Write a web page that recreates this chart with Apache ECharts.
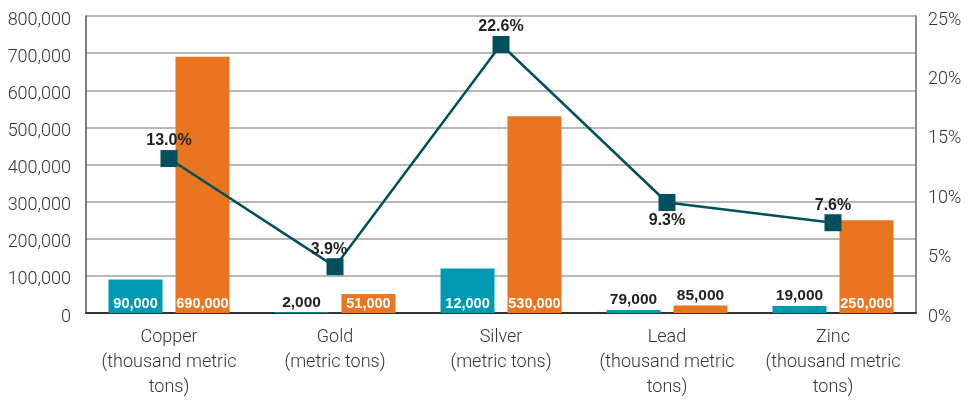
<!DOCTYPE html>
<html><head><meta charset="utf-8">
<script src="https://cdn.jsdelivr.net/npm/echarts@6/dist/echarts.min.js"></script>
<style>html,body{margin:0;padding:0;background:#fff}#c{width:979px;height:400px}</style>
</head><body><div id="c"></div>
<script>
const categories = ["Copper\n(thousand metric\ntons)", "Gold\n(metric tons)", "Silver\n(metric tons)", "Lead\n(thousand metric\ntons)", "Zinc\n(thousand metric\ntons)"];
const tealValues = [90000, 2000, 120000, 7900, 19000];
const tealLabels = ["90,000", "2,000", "12,000", "79,000", "19,000"];
const orangeValues = [690000, 51000, 530000, 20000, 250000];
const orangeLabels = ["690,000", "51,000", "530,000", "85,000", "250,000"];
const pctValues = [13.0, 3.9, 22.6, 9.3, 7.6];
const pctLabels = ["13.0%", "3.9%", "22.6%", "9.3%", "7.6%"];
const pctLabelPos = ["top", "top", "top", "bottom", "top"];

const TEAL = "#0099b4", ORANGE = "#ea7520", LINE = "#00505e";

function barData(vals, labels) {
  return vals.map((v, i) => {
    const small = v < 35000;
    return {
      value: v,
      label: {
        show: true,
        formatter: labels[i],
        position: small ? "top" : "insideBottom",
        distance: 2,
        color: small ? "#222" : "#fff",
        fontFamily: "Liberation Sans, Arial, sans-serif",
        fontWeight: "bold",
        fontSize: small ? 15.5 : 14.5
      }
    };
  });
}

const chart = echarts.init(document.getElementById("c"), null, {renderer: "canvas"});
chart.setOption({
  animation: false,
  grid: {left: 86, right: 63, top: 16, bottom: 87},
  xAxis: {
    type: "category",
    data: categories,
    axisTick: {show: false},
    axisLine: {lineStyle: {color: "#333", width: 2}},
    axisLabel: {
      color: "#333", fontFamily: "Roboto", fontWeight: 300, fontSize: 18,
      lineHeight: 25, margin: 12, interval: 0
    }
  },
  yAxis: [{
    type: "value", min: 0, max: 800000, interval: 100000,
    axisLine: {show: true, lineStyle: {color: "#555", width: 1.5}},
    axisTick: {show: false},
    splitLine: {lineStyle: {color: "#a0a0a0", width: 1.5}},
    axisLabel: {
      color: "#333", fontFamily: "Roboto", fontWeight: 300, fontSize: 18, margin: 15,
      verticalAlign: "top", lineHeight: 8,
      formatter: v => v.toLocaleString("en-US")
    }
  }, {
    type: "value", min: 0, max: 25, interval: 5, position: "right",
    axisLine: {show: true, lineStyle: {color: "#666", width: 1.5}},
    axisTick: {show: false},
    splitLine: {show: false},
    axisLabel: {
      color: "#333", fontFamily: "Roboto", fontWeight: 300, fontSize: 18, margin: 12,
      verticalAlign: "top", lineHeight: 8,
      formatter: v => v + "%"
    }
  }],
  series: [{
    type: "bar", data: barData(tealValues, tealLabels),
    itemStyle: {color: TEAL}, barWidth: 54, barGap: "24%"
  }, {
    type: "bar", data: barData(orangeValues, orangeLabels),
    itemStyle: {color: ORANGE}, barWidth: 54, barGap: "24%"
  }, {
    type: "line", yAxisIndex: 1,
    data: pctValues.map((v, i) => ({
      value: v,
      label: {
        show: true, formatter: pctLabels[i], position: pctLabelPos[i],
        distance: pctLabelPos[i] === "top" ? 1 : 2, offset: i === 1 ? [-6, 0] : [0, 0],
        color: "#222", fontFamily: "Liberation Sans, Arial, sans-serif",
        fontWeight: "bold", fontSize: 16
      }
    })),
    symbol: "rect", symbolSize: 17,
    itemStyle: {color: LINE},
    lineStyle: {color: LINE, width: 2.5},
    z: 5
  }]
});
</script></body></html>
